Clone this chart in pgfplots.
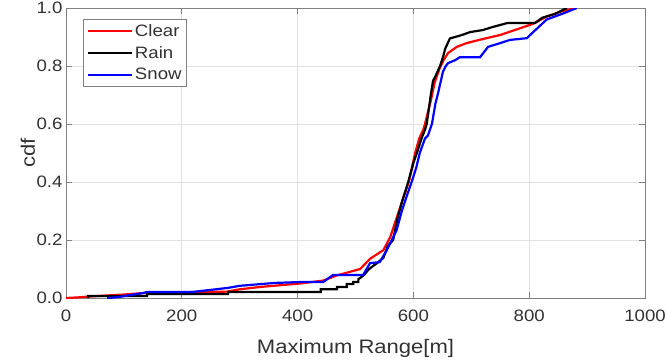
\documentclass[border=0pt]{standalone}
\usepackage{fontspec}
\setmainfont{Liberation Sans}[FakeStretch=1.13]
\usepackage{pgfplots}
\pgfplotsset{compat=1.18}
\definecolor{axgray}{RGB}{128,128,128}
\definecolor{txtgray}{RGB}{50,50,50}
\definecolor{gridgray}{RGB}{225,225,225}
\begin{document}
\begin{tikzpicture}
\begin{axis}[
  scale only axis,
  width=579pt, height=290pt,
  xmin=0, xmax=1000, ymin=0, ymax=1,
  xtick={0,200,400,600,800,1000},
  ytick={0,0.2,0.4,0.6,0.8,1},
  /pgf/number format/assume math mode=true,
  /pgf/number format/1000 sep={},
  yticklabel style={/pgf/number format/.cd, fixed, fixed zerofill, precision=1},
  tick label style={font=\fontsize{16.5}{18}\selectfont, text=txtgray},
  xticklabel style={yshift=-8pt},
  tick align=inside,
  major tick length=6pt,
  tick style={axgray, line width=0.8pt},
  axis line style={axgray, line width=0.8pt},
  grid=major,
  major grid style={gridgray, line width=0.7pt},
  xlabel={Maximum Range[m]},
  ylabel={cdf},
  label style={font=\fontsize{19.5}{22}\selectfont, text=txtgray},
  xlabel style={at={(axis description cs:0.5,0)}, anchor=base, yshift=-55pt},
  ylabel style={at={(axis description cs:0,0.5)}, anchor=base, yshift=31pt},
  legend style={at={(0.03,0.962)}, anchor=north west, draw=axgray, line width=0.8pt,
    font=\fontsize{16.5}{18}\selectfont, text=txtgray, inner sep=3pt, row sep=4.5pt,
    cells={anchor=west}},
  legend image code/.code={\draw[#1, line width=2.2pt] (0pt,0pt) -- (44pt,0pt);},
  every axis plot/.append style={line width=2.2pt},
]
\addplot[red] coordinates {
(0,0) (20,0.002) (40,0.005) (100,0.012) (133,0.017) (200,0.02) (278,0.022) (300,0.03) (335,0.038) (404,0.05) (444,0.06) (468,0.078) (490,0.09) (508,0.1) (525,0.135) (548,0.165) (560,0.21) (570,0.27) (580,0.33) (592,0.4) (603,0.5) (610,0.55) (617,0.58) (620,0.6) (630,0.68) (637,0.745) (645,0.79) (652,0.82) (660,0.845) (675,0.866) (692,0.879) (720,0.893) (750,0.907) (781,0.928) (806,0.945) (830,0.97) (858,0.99) (882,1.0)
};
\addlegendentry{Clear}
\addplot[black] coordinates {
(38,0) (38,0.007) (140,0.007) (140,0.014) (280,0.014) (280,0.021) (440,0.021) (440,0.03) (468,0.03) (468,0.038) (485,0.038) (485,0.048) (496,0.048) (496,0.055) (505,0.055) (505,0.065) (510,0.072) (515,0.08) (522,0.097) (530,0.11) (537,0.12) (543,0.13) (548,0.138) (556,0.18) (565,0.2) (572,0.27) (580,0.33) (591,0.4) (598,0.45) (600,0.466) (606,0.5) (614,0.55) (620,0.58) (623,0.6) (630,0.7) (634,0.75) (637,0.76) (646,0.8) (651,0.83) (655,0.86) (663,0.895) (672,0.9) (684,0.907) (698,0.917) (720,0.924) (736,0.934) (762,0.948) (810,0.948) (822,0.966) (845,0.98) (865,1.0)
};
\addlegendentry{Rain}
\addplot[blue] coordinates {
(71,0) (90,0.003) (105,0.008) (133,0.017) (140,0.021) (219,0.021) (250,0.028) (280,0.035) (300,0.042) (318,0.045) (361,0.052) (404,0.055) (444,0.055) (461,0.079) (513,0.079) (525,0.12) (542,0.124) (554,0.165) (571,0.234) (580,0.3) (590,0.36) (597,0.4) (605,0.45) (611,0.5) (620,0.55) (625,0.56) (632,0.6) (638,0.67) (643,0.71) (651,0.78) (656,0.8) (660,0.81) (672,0.82) (680,0.83) (715,0.83) (729,0.866) (750,0.879) (767,0.89) (796,0.896) (807,0.917) (830,0.96) (865,0.986) (882,1.0)
};
\addlegendentry{Snow}
\coordinate (SW) at (rel axis cs:0,0);
\coordinate (NE) at (rel axis cs:1,1);
\end{axis}
\pgfresetboundingbox
\path ([shift={(-66pt,-64pt)}]SW) rectangle ([shift={(21pt,8pt)}]NE);
\end{tikzpicture}
\end{document}
